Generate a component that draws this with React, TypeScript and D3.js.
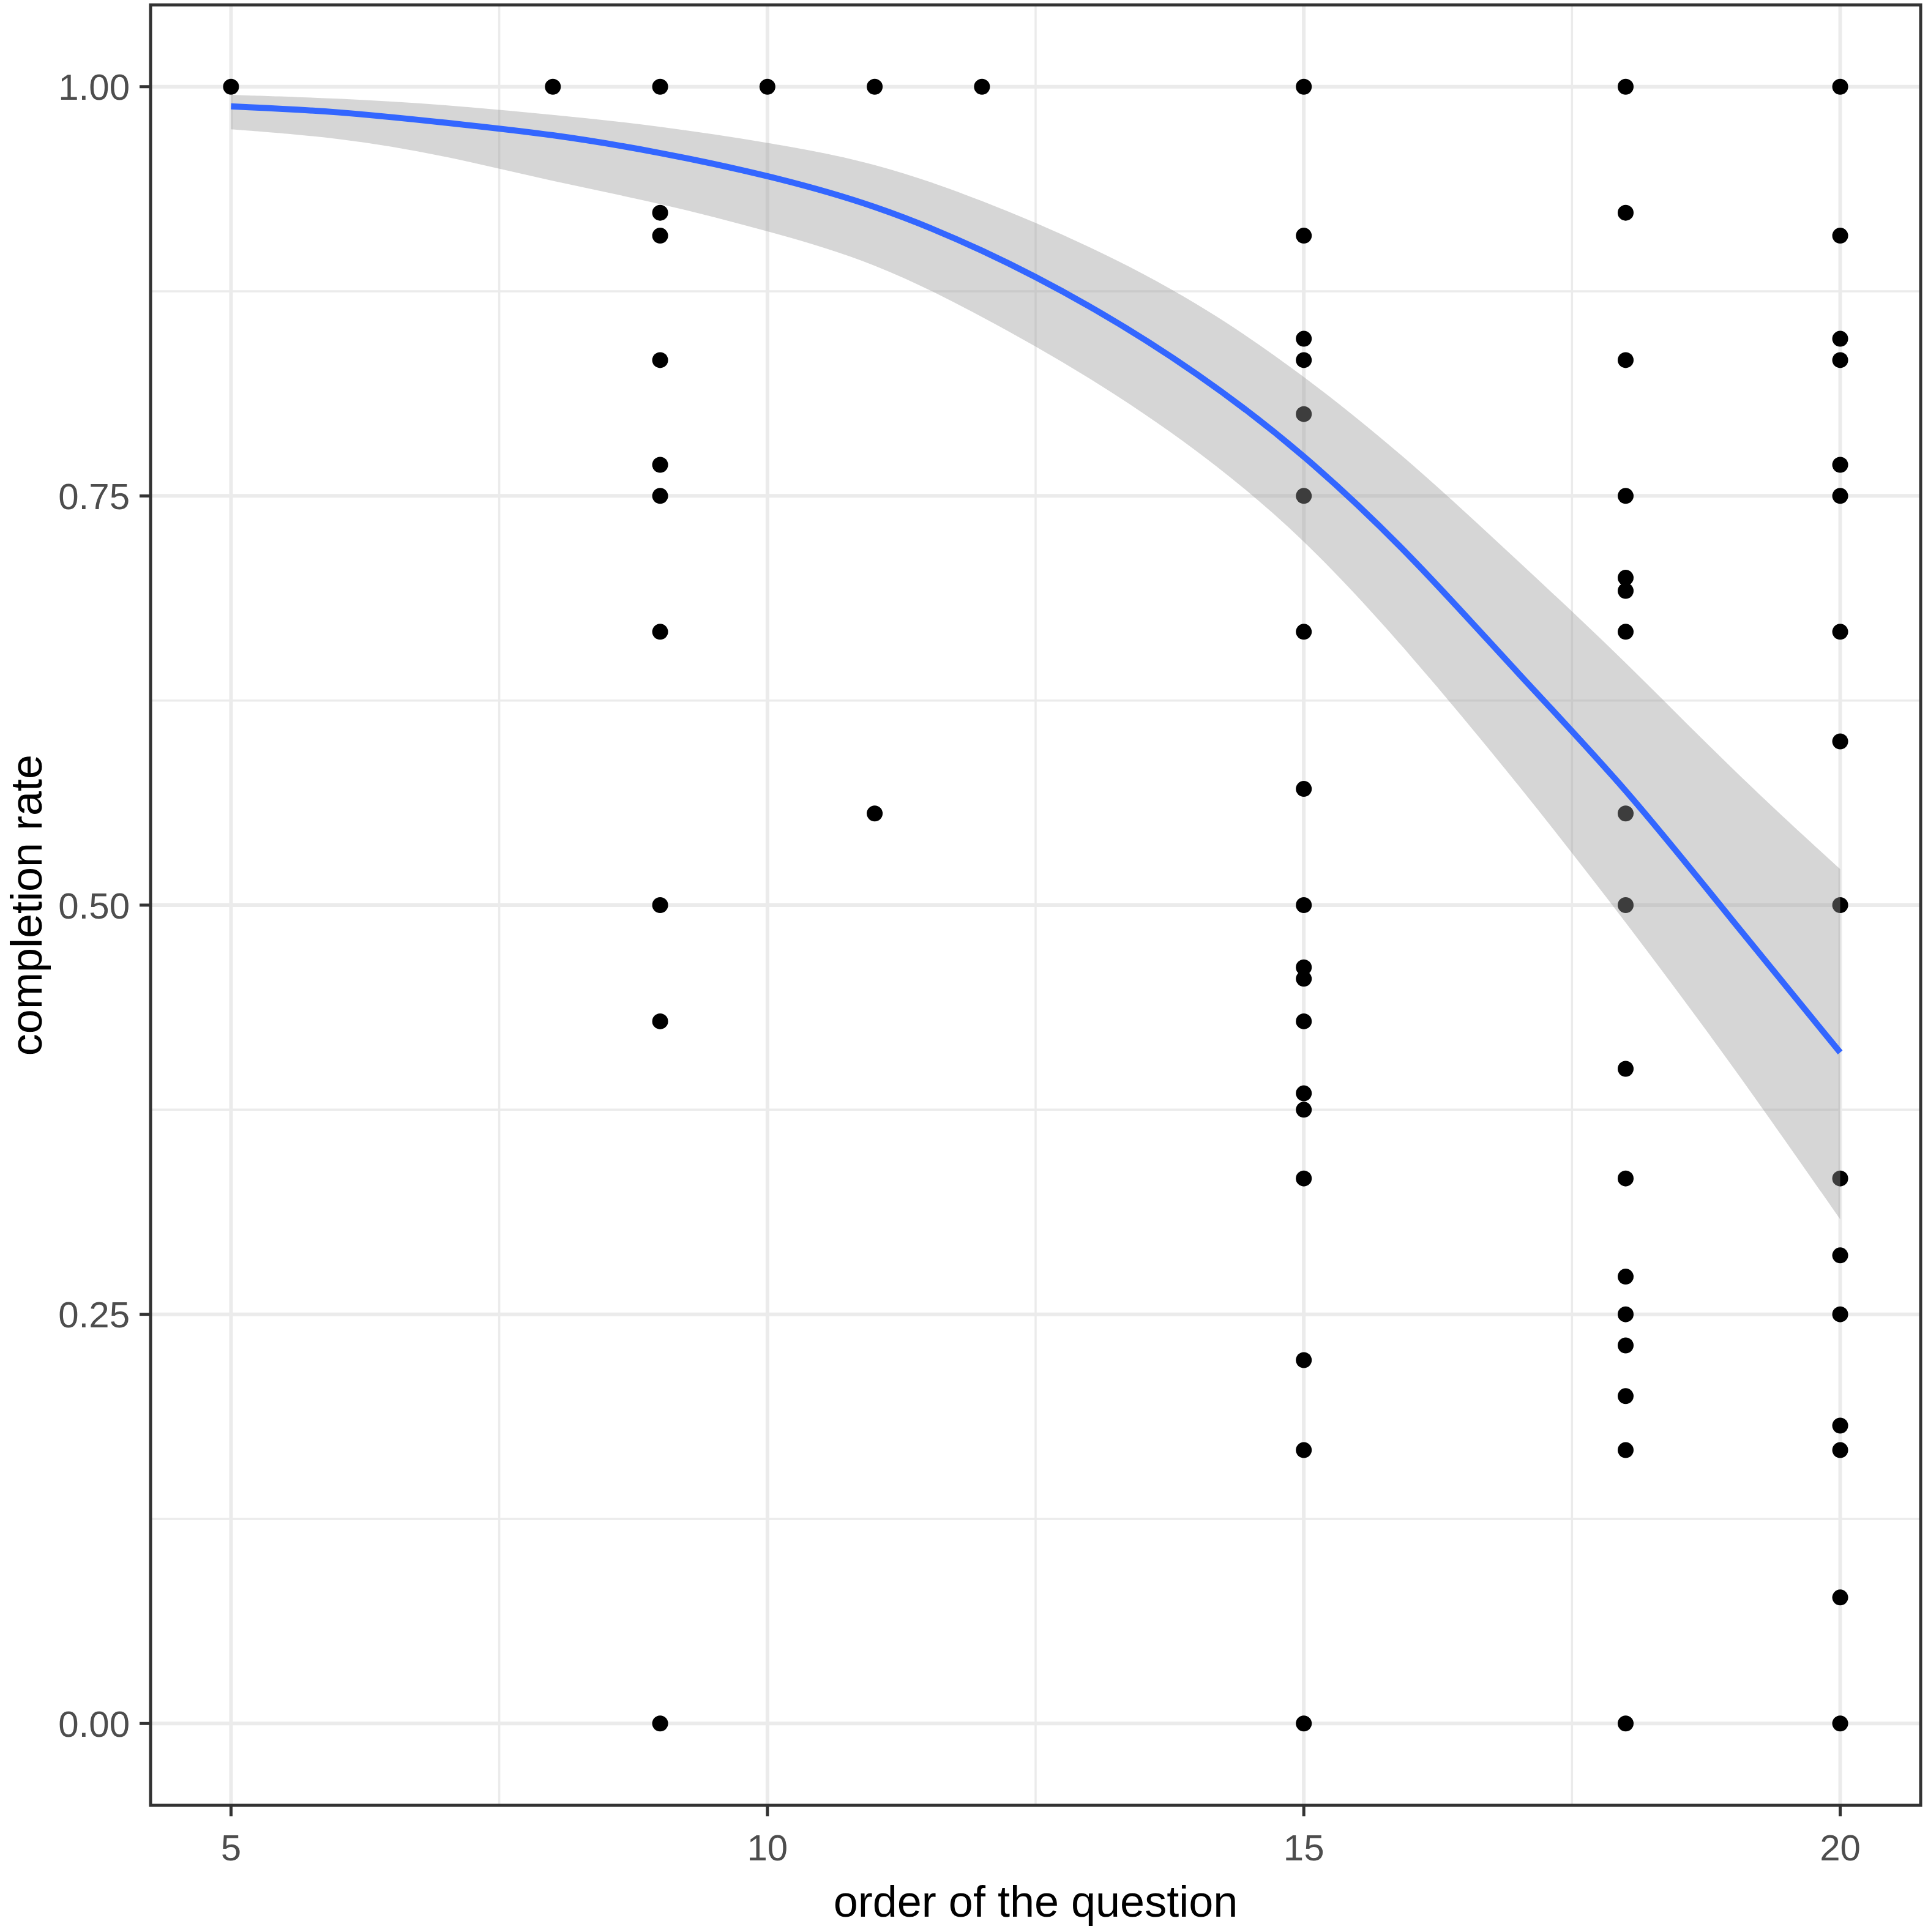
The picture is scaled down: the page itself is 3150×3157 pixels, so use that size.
import React from "react"
import * as d3 from "d3"

// axis breaks
const xTicks = [5, 10, 15, 20]
const xMinor = [7.5, 12.5, 17.5]
const yTicks = [0, 0.25, 0.5, 0.75, 1]
const yMinor = [0.125, 0.375, 0.625, 0.875]
const yTickLabels = ["0.00", "0.25", "0.50", "0.75", "1.00"]

// observed completion rates, one array per question order
const rateQ5 = [1]
const rateQ8 = [1]
const rateQ9 = [1, 0.923, 0.909, 0.833, 0.769, 0.75, 0.667, 0.5, 0.429, 0]
const rateQ10 = [1]
const rateQ11 = [1, 0.556]
const rateQ12 = [1]
const rateQ15 = [1, 0.909, 0.846, 0.833, 0.8, 0.75, 0.667, 0.571, 0.5, 0.462, 0.455, 0.429, 0.385, 0.375, 0.333, 0.222, 0.167, 0]
const rateQ18 = [1, 0.923, 0.833, 0.75, 0.7, 0.692, 0.667, 0.556, 0.5, 0.4, 0.333, 0.273, 0.25, 0.231, 0.2, 0.167, 0]
const rateQ20 = [1, 0.909, 0.846, 0.833, 0.769, 0.75, 0.667, 0.6, 0.5, 0.333, 0.286, 0.25, 0.182, 0.167, 0.077, 0]

const questionOrder = [5, 8, 9, 10, 11, 12, 15, 18, 20]
const ratesByOrder = [rateQ5, rateQ8, rateQ9, rateQ10, rateQ11, rateQ12, rateQ15, rateQ18, rateQ20]

// smoother
const smoothOrder = [5, 6, 7, 8, 9, 10, 11, 12, 13, 14, 15, 16, 17, 18, 19, 20]
const smoothFit = [0.988, 0.985, 0.978, 0.971, 0.96, 0.946, 0.928, 0.901, 0.867, 0.826, 0.776, 0.714, 0.641, 0.572, 0.49, 0.41]
const smoothLow = [0.974, 0.969, 0.958, 0.942, 0.929, 0.912, 0.893, 0.86, 0.823, 0.779, 0.725, 0.653, 0.574, 0.49, 0.402, 0.308]
const smoothHigh = [0.995, 0.993, 0.989, 0.983, 0.976, 0.966, 0.954, 0.931, 0.903, 0.869, 0.824, 0.771, 0.71, 0.649, 0.582, 0.522]

const W = 3150
const H = 3157
const panel = { left: 246, right: 3138, top: 8, bottom: 2950 }
const font = "'Liberation Sans', Arial, Helvetica, sans-serif"

export default function App() {
  const x = d3.scaleLinear().domain([4.25, 20.75]).range([panel.left, panel.right])
  const y = d3.scaleLinear().domain([-0.05, 1.05]).range([panel.bottom, panel.top])

  const points = questionOrder.flatMap((q, i) => ratesByOrder[i].map(r => ({ q, r })))
  const smooth = smoothOrder.map((q, i) => ({ q, fit: smoothFit[i], lo: smoothLow[i], hi: smoothHigh[i] }))

  const band = d3
    .area<any>()
    .x(d => x(d.q))
    .y0(d => y(d.lo))
    .y1(d => y(d.hi))
    .curve(d3.curveBasis)
  const line = d3
    .line<any>()
    .x(d => x(d.q))
    .y(d => y(d.fit))
    .curve(d3.curveBasis)

  return (
    <svg width={W} height={H} style={{ position: "absolute", left: 0, top: 0, background: "#fff" }}>
      <rect x={0} y={0} width={W} height={H} fill="#fff" />
      <g>
        {xMinor.map(v => (
          <line key={"xm" + v} x1={x(v)} x2={x(v)} y1={panel.top} y2={panel.bottom} stroke="#ebebeb" strokeWidth={3.5} />
        ))}
        {yMinor.map(v => (
          <line key={"ym" + v} x1={panel.left} x2={panel.right} y1={y(v)} y2={y(v)} stroke="#ebebeb" strokeWidth={3.5} />
        ))}
        {xTicks.map(v => (
          <line key={"xg" + v} x1={x(v)} x2={x(v)} y1={panel.top} y2={panel.bottom} stroke="#ebebeb" strokeWidth={6} />
        ))}
        {yTicks.map(v => (
          <line key={"yg" + v} x1={panel.left} x2={panel.right} y1={y(v)} y2={y(v)} stroke="#ebebeb" strokeWidth={6} />
        ))}
      </g>
      <g>
        {points.map((p, i) => (
          <circle key={i} cx={x(p.q)} cy={y(p.r)} r={13} fill="#000" />
        ))}
      </g>
      <path d={band(smooth) || ""} fill="#999999" fillOpacity={0.4} />
      <path d={line(smooth) || ""} fill="none" stroke="#3366ff" strokeWidth={10} />
      <rect
        x={panel.left}
        y={panel.top}
        width={panel.right - panel.left}
        height={panel.bottom - panel.top}
        fill="none"
        stroke="#333333"
        strokeWidth={5}
      />
      <g fontFamily={font}>
        {yTicks.map((v, i) => (
          <g key={"yt" + v}>
            <line x1={panel.left - 18} x2={panel.left} y1={y(v)} y2={y(v)} stroke="#333333" strokeWidth={5} />
            <text x={212} y={y(v)} dy="0.36em" textAnchor="end" fontSize={60} fill="#4d4d4d">
              {yTickLabels[i]}
            </text>
          </g>
        ))}
        {xTicks.map(v => (
          <g key={"xt" + v}>
            <line x1={x(v)} x2={x(v)} y1={panel.bottom} y2={panel.bottom + 18} stroke="#333333" strokeWidth={5} />
            <text x={x(v)} y={3040} textAnchor="middle" fontSize={60} fill="#4d4d4d">
              {v}
            </text>
          </g>
        ))}
        <text x={(panel.left + panel.right) / 2} y={3132} textAnchor="middle" fontSize={72} fill="#000">
          order of the question
        </text>
        <text
          transform={`translate(68, ${(panel.top + panel.bottom) / 2}) rotate(-90)`}
          textAnchor="middle"
          fontSize={72}
          fill="#000"
        >
          completion rate
        </text>
      </g>
    </svg>
  )
}
